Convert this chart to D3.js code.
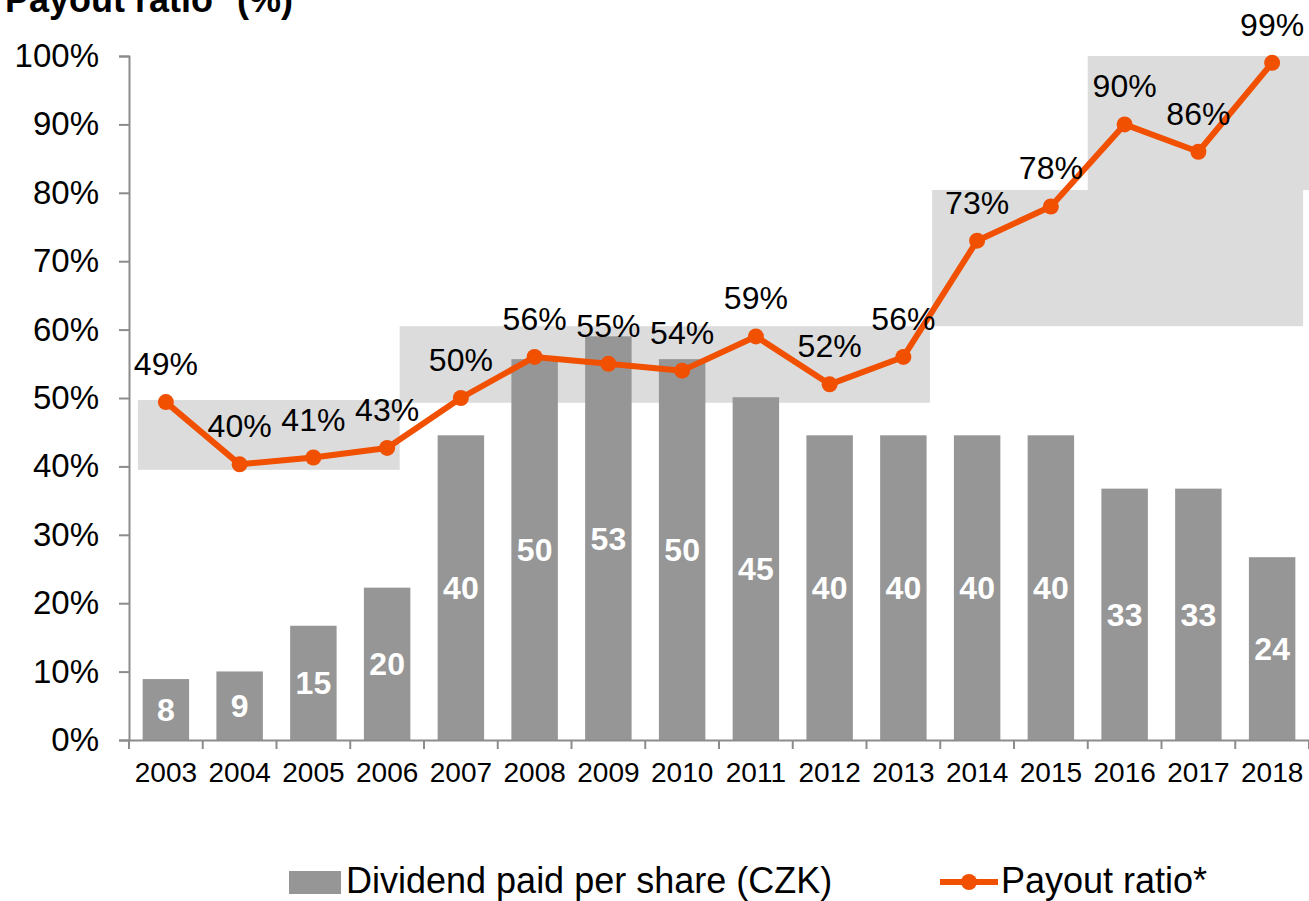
<!DOCTYPE html>
<html>
<head>
<meta charset="utf-8">
<script src="https://cdn.jsdelivr.net/npm/d3@7"></script>
<style>
  html, body { margin: 0; padding: 0; background: #fff; }
  svg { display: block; font-family: "Liberation Sans", Arial, sans-serif; }
</style>
</head>
<body>
<svg id="chart" width="1309" height="901"></svg>
<script>
// data
const years = ["2003","2004","2005","2006","2007","2008","2009","2010",
               "2011","2012","2013","2014","2015","2016","2017","2018"];
const dividend = [8, 9, 15, 20, 40, 50, 53, 50, 45, 40, 40, 40, 40, 33, 33, 24];
const payout = [49.4, 40.3, 41.3, 42.7, 50.0, 56.0, 55.0, 54.0,
                59.0, 52.0, 56.0, 73.0, 78.0, 90.0, 86.0, 99.0];
const yTicks = [0, 10, 20, 30, 40, 50, 60, 70, 80, 90, 100];
// shaded ranges (year span, % range)
const bands = [
    { from: 2002.62, to: 2006.17, lo: 39.5, hi: 49.7 },
    { from: 2006.17, to: 2013.36, lo: 49.3, hi: 60.5 },
    { from: 2013.39, to: 2018.42, lo: 60.5, hi: 80.4 },
    { from: 2015.50, to: 2018.50, lo: 80.4, hi: 100 }
];

const barColor = "#969696", lineColor = "#f05000", bandColor = "#dcdcdc", axisColor = "#8c8c8c";

const svg = d3.select("#chart");
const m = { left: 129, right: 0, top: 56, bottom: 161 };
const W = 1309, H = 901;

const x = d3.scaleBand().domain(years)
    .range([m.left, W - m.right])
    .paddingInner(0.37).paddingOuter(0.185);
const yPct = d3.scaleLinear().domain([0, 100]).range([H - m.bottom, m.top]);
const yCzk = d3.scaleLinear().domain([0, 89.8]).range([H - m.bottom, m.top]);
const xYear = d3.scaleLinear().domain([2003, 2018])
    .range([x("2003") + x.bandwidth() / 2, x("2018") + x.bandwidth() / 2]);

// bands
svg.append("g").selectAll("rect")
    .data(bands)
    .join("rect")
    .attr("x", d => xYear(d.from))
    .attr("width", d => xYear(d.to) - xYear(d.from))
    .attr("y", d => yPct(d.hi))
    .attr("height", d => yPct(d.lo) - yPct(d.hi))
    .attr("fill", bandColor);

// bars
const bars = years.map((yr, i) => ({ yr, v: dividend[i] }));
svg.append("g").selectAll("rect")
    .data(bars)
    .join("rect")
    .attr("x", d => x(d.yr))
    .attr("width", x.bandwidth())
    .attr("y", d => yCzk(d.v))
    .attr("height", d => yCzk(0) - yCzk(d.v))
    .attr("fill", barColor);

svg.append("g").selectAll("text")
    .data(bars)
    .join("text")
    .attr("x", d => x(d.yr) + x.bandwidth() / 2)
    .attr("y", d => (yCzk(d.v) + yCzk(0)) / 2)
    .attr("dy", "0.36em")
    .attr("text-anchor", "middle")
    .attr("fill", "#fff")
    .attr("font-weight", "bold")
    .attr("font-size", 32)
    .text(d => d.v);

// axes
const yAxis = svg.append("g")
    .attr("transform", `translate(${m.left},0)`)
    .call(d3.axisLeft(yPct).tickValues(yTicks).tickSize(10).tickPadding(20)
        .tickFormat(d => d + "%"));
yAxis.select(".domain").attr("stroke", axisColor).attr("stroke-width", 2);
yAxis.selectAll(".tick line").attr("stroke", axisColor).attr("stroke-width", 2);
yAxis.selectAll(".tick text").attr("font-size", 33).attr("fill", "#000")
    .attr("font-family", "Liberation Sans, Arial, sans-serif");

const xAxis = svg.append("g")
    .attr("transform", `translate(0,${yPct(0)})`)
    .call(d3.axisBottom(x).tickSize(0).tickPadding(22));
xAxis.select(".domain").attr("stroke", axisColor).attr("stroke-width", 2);
xAxis.selectAll(".tick text").attr("font-size", 28).attr("fill", "#000")
    .attr("font-family", "Liberation Sans, Arial, sans-serif");

// category boundary ticks
const edges = years.map(yr => x(yr) - x.step() * x.paddingInner() / 2)
    .concat([x(years[years.length - 1]) + x.bandwidth() + x.step() * x.paddingInner() / 2]);
xAxis.append("g").selectAll("line")
    .data(edges)
    .join("line")
    .attr("x1", d => d).attr("x2", d => d)
    .attr("y1", 0).attr("y2", 9)
    .attr("stroke", axisColor).attr("stroke-width", 2);

// payout line
const pts = years.map((yr, i) => ({ yr, v: payout[i] }));
const line = d3.line()
    .x(d => x(d.yr) + x.bandwidth() / 2)
    .y(d => yPct(d.v));
svg.append("path")
    .datum(pts)
    .attr("d", line)
    .attr("fill", "none")
    .attr("stroke", lineColor)
    .attr("stroke-width", 6)
    .attr("stroke-linejoin", "round");

svg.append("g").selectAll("circle")
    .data(pts)
    .join("circle")
    .attr("cx", d => x(d.yr) + x.bandwidth() / 2)
    .attr("cy", d => yPct(d.v))
    .attr("r", 8)
    .attr("fill", lineColor);

svg.append("g").selectAll("text")
    .data(pts)
    .join("text")
    .attr("x", d => x(d.yr) + x.bandwidth() / 2)
    .attr("y", d => yPct(d.v) - 27)
    .attr("text-anchor", "middle")
    .attr("font-size", 32)
    .attr("fill", "#000")
    .text(d => Math.round(d.v) + "%");

// title (clipped at the top-left like the source)
svg.append("text")
    .attr("x", 293).attr("y", 12)
    .attr("text-anchor", "end")
    .attr("font-size", 36)
    .attr("font-weight", "bold")
    .text("Payout ratio* (%)");

// legend
const lg = svg.append("g");
lg.append("rect").attr("x", 289).attr("y", 871).attr("width", 52).attr("height", 23).attr("fill", barColor);
lg.append("text").attr("x", 346).attr("y", 893).attr("font-size", 36).text("Dividend paid per share (CZK)");
lg.append("line").attr("x1", 940).attr("x2", 998).attr("y1", 882).attr("y2", 882)
    .attr("stroke", lineColor).attr("stroke-width", 6);
lg.append("circle").attr("cx", 969).attr("cy", 882).attr("r", 8).attr("fill", lineColor);
lg.append("text").attr("x", 1001).attr("y", 893).attr("font-size", 36).text("Payout ratio*");
</script>
</body>
</html>
